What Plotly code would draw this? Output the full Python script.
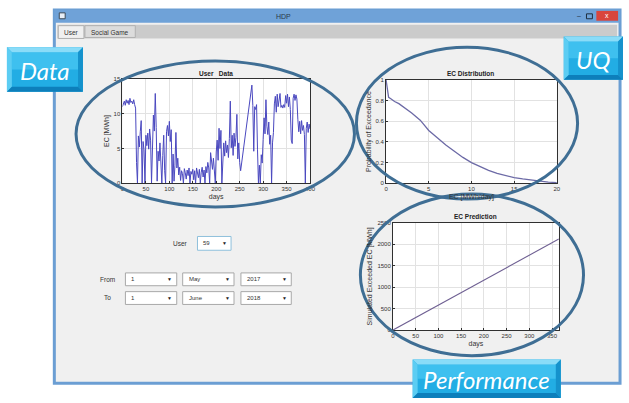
import plotly.graph_objects as go

W, H = 629, 403

# ---- data -------------------------------------------------------------
# daily energy consumption of the selected user
user_days = [
    0, 2, 4, 6, 8, 10, 12, 14, 16, 18,
    20, 22, 24, 26, 28, 30, 32, 34, 36, 38,
    40, 42, 44, 46, 48, 50, 52, 54, 56, 58,
    60, 62, 64, 66, 68, 70, 72, 74, 76, 78,
    80, 82, 84, 86, 88, 90, 92, 94, 96, 98,
    100, 102, 104, 106, 108, 110, 112, 114, 116, 118,
    120, 122, 124, 126, 128, 130, 132, 134, 136, 138,
    140, 142, 144, 146, 148, 150, 152, 154, 156, 158,
    160, 162, 164, 166, 168, 170, 172, 174, 176, 178,
    180, 182, 184, 186, 188, 190, 192, 194, 196, 198,
    200, 202, 204, 206, 208, 210, 212, 214, 216, 218,
    220, 222, 224, 226, 228, 230, 232, 234, 236, 238,
    240, 242, 244, 246, 248, 250, 252, 276, 278,
    280, 282, 284, 286, 288, 290, 292, 294, 296, 298,
    300, 302, 304, 306, 308, 310, 312, 314, 316, 318,
    320, 322, 324, 326, 328, 330, 332, 334, 336, 338,
    340, 342, 344, 346, 348, 350, 352, 354, 356, 358,
    360, 362, 364, 366, 368, 370, 372, 374, 376, 378,
    380, 382, 384, 386, 388, 390, 392, 394, 396, 398, 400,
]
user_ec = [
    11.0, 11.4, 11.8, 11.2, 12.0, 11.5, 11.9, 11.3, 12.2, 11.6,
    11.8, 11.4, 12.0, 11.3, 10.8, 3.0, 0.0, 6.8, 5.2, 7.4,
    9.0, 0.0, 6.0, 4.8, 0.0, 6.9, 5.4, 7.2, 4.9, 7.8,
    6.2, 0.0, 6.6, 9.8, 7.5, 12.9, 8.0, 0.3, 4.6, 3.2,
    5.8, 2.1, 0.0, 4.0, 6.9, 1.8, 0.0, 7.4, 8.3, 6.8,
    8.9, 6.0, 7.7, 0.0, 4.2, 0.3, 2.6, 7.3, 2.2, 3.6,
    1.2, 2.3, 0.4, 1.8, 1.4, 0.0, 2.1, 1.5, 0.6, 1.9,
    1.1, 2.2, 0.0, 1.7, 1.3, 2.0, 0.5, 1.8, 0.0, 2.2,
    1.4, 0.8, 2.0, 0.0, 1.6, 2.3, 0.9, 1.9, 0.0, 2.4,
    1.5, 3.0, 2.2, 0.0, 4.4, 3.1, 2.0, 3.6, 1.6, 0.0,
    4.5, 6.2, 3.3, 7.9, 5.0, 7.6, 0.0, 4.6, 5.8, 3.9,
    6.1, 4.4, 5.5, 3.7, 6.4, 11.8, 5.1, 6.9, 4.0, 7.2,
    5.3, 6.6, 9.9, 3.5, 5.8, 3.0, 1.8, 14.1, 11.2,
    4.6, 11.0, 10.6, 11.3, 4.8, 0.0, 2.6, 0.0, 4.1, 2.9,
    6.3, 9.4, 7.1, 12.0, 8.2, 7.0, 8.8, 5.6, 6.9, 0.0,
    5.8, 7.3, 11.4, 12.5, 10.2, 12.8, 11.0, 12.3, 12.9, 10.9,
    11.2, 10.8, 11.3, 10.9, 12.6, 11.5, 12.8, 11.0, 12.4, 10.6,
    6.2, 5.7, 12.2, 12.8, 11.9, 12.7, 12.1, 9.2, 7.4, 8.9,
    7.1, 9.0, 7.6, 8.3, 7.0, 0.0, 7.9, 8.8, 7.3, 8.5, 7.8,
]

# exceedance probability of daily consumption
dist_ec = [0, 0.15, 0.3, 0.6, 1, 1.5, 2, 2.5, 3, 4, 5, 6, 7, 8, 9,
           10, 11, 12, 13, 14, 15, 16, 17, 18, 19, 20]
dist_prob = [1.0, 0.88, 0.83, 0.815, 0.79, 0.77, 0.74, 0.71, 0.68, 0.61,
             0.51, 0.44, 0.37, 0.31, 0.25, 0.20, 0.16, 0.125, 0.095,
             0.072, 0.055, 0.042, 0.030, 0.020, 0.012, 0.006]

# simulated cumulative exceeded consumption
pred_days = [0, 50, 100, 150, 200, 250, 300, 350, 365]
pred_ec = [0, 290, 580, 870, 1160, 1450, 1740, 2030, 2120]

# ---- helpers: pixel position -> paper fraction -------------------------
def fx(x):
    return x / W


def fy(y):
    return 1 - y / H


shapes = []
annotations = []


def rect(x0, y0, x1, y1, fill, line_color=None, line_width=0, layer="below"):
    shapes.append(dict(
        type="rect", xref="paper", yref="paper",
        x0=fx(x0), x1=fx(x1), y0=fy(y1), y1=fy(y0),
        fillcolor=fill, layer=layer,
        line=dict(color=line_color or fill, width=line_width),
    ))


def poly(points, fill, layer="above"):
    d = "M " + " L ".join(f"{fx(x):.5f},{fy(y):.5f}" for x, y in points) + " Z"
    shapes.append(dict(type="path", xref="paper", yref="paper", path=d,
                       fillcolor=fill, line=dict(width=0), layer=layer))


def text(x, y, s, size=7, color="#333333", xanchor="center",
         family="Liberation Sans", angle=0, layer_font=None):
    annotations.append(dict(
        x=fx(x), y=fy(y), xref="paper", yref="paper", text=s,
        showarrow=False, xanchor=xanchor, yanchor="middle", textangle=angle,
        font=dict(size=size, color=color, family=family),
    ))


# ---- application window ------------------------------------------------
rect(53, 7, 626, 386, "#f0f0f0", "#6b9ed3", 3)
rect(53, 7, 626, 20, "#6fa2d8")
text(285, 13.5, "HDP", size=7, color="#2a3a4a")
rect(58, 10, 64, 16, "#e8eef6", "#3a4a5a", 1)
text(584, 13, "–", size=7, color="#1f2f3f")
rect(592, 11, 598, 16, "#6fa2d8", "#1f2f3f", 1)
rect(602, 8, 624, 18, "#d9453d")
text(613, 13, "x", size=7, color="#ffffff")

# tab strip
rect(56, 22, 623, 36, "#cbcbcb")
rect(57, 23, 83, 36, "#f0f0f0", "#b0b0b0", 1)
rect(84, 23, 135, 35, "#dcdcdc", "#b0b0b0", 1)
text(70, 29.5, "User", size=6.5)
text(109, 29.5, "Social Game", size=6.5)

# white plotting areas
ax1 = (122, 77, 312, 183)
ax2 = (389, 78, 562, 183)
ax3 = (396, 223, 564, 332)
for a in (ax1, ax2, ax3):
    rect(a[0], a[1], a[2], a[3], "#ffffff")

# ---- selection controls -------------------------------------------------
def dropdown(x0, y0, x1, y1, value, border="#a8a8a8"):
    rect(x0, y0, x1, y1, "#ffffff", border, 1)
    text(x0 + 4, (y0 + y1) / 2, value, size=6, xanchor="left")
    text(x1 - 7, (y0 + y1) / 2, "▼", size=5, color="#222222")


text(181, 244, "User", size=6.5)
dropdown(198, 237, 232, 251, "59", border="#8fc0dc")
text(107, 281, "From", size=6.5)
text(107, 299, "To", size=6.5)
row_from = ["1", "May", "2017"]
row_to = ["1", "June", "2018"]
cols = [(125, 177), (183, 235), (242, 293)]
for (c0, c1), v in zip(cols, row_from):
    dropdown(c0, 274, c1, 287, v)
for (c0, c1), v in zip(cols, row_to):
    dropdown(c0, 293, c1, 306, v)

# ---- plot titles ---------------------------------------------------------
text(217, 72, "<b>User   Data</b>", size=6.5, color="#222222")
text(475, 72, "<b>EC Distribution</b>", size=6.5, color="#222222")
text(480, 217, "<b>EC Prediction</b>", size=6.5, color="#222222")

# ---- highlight ellipses ----------------------------------------------------
ring = "#3f6e94"
for (cx, cy, rx, ry) in [(216, 133, 141, 74), (471, 122, 112, 77),
                         (476, 276, 113, 82)]:
    shapes.append(dict(type="circle", xref="paper", yref="paper",
                       x0=fx(cx - rx), x1=fx(cx + rx),
                       y0=fy(cy + ry), y1=fy(cy - ry),
                       line=dict(color=ring, width=3), layer="above"))


# ---- bevelled caption badges -----------------------------------------------
def badge(x0, y0, x1, y1, label, size):
    b = 5
    rect(x0, y0, x1, y1, "#22ade4", layer="above")
    rect(x0 + b, y0 + b, x1 - b, (y0 + y1) / 2, "#3ec0ef", layer="above")
    poly([(x0, y0), (x1, y0), (x1 - b, y0 + b), (x0 + b, y0 + b)], "#8adcf8")
    poly([(x0, y0), (x0 + b, y0 + b), (x0 + b, y1 - b), (x0, y1)], "#5ccdf3")
    poly([(x1, y0), (x1, y1), (x1 - b, y1 - b), (x1 - b, y0 + b)], "#1592cc")
    poly([(x0, y1), (x1, y1), (x1 - b, y1 - b), (x0 + b, y1 - b)], "#0d7fbb")
    annotations.append(dict(
        x=fx((x0 + x1) / 2), y=fy((y0 + y1) / 2 + 1), xref="paper",
        yref="paper", text=f"<i>{label}</i>", showarrow=False,
        xanchor="center", yanchor="middle",
        font=dict(size=size, color="#ffffff", family="Lato"),
    ))


badge(5, 45, 82, 90, "Data", 24)
badge(569, 34, 629, 78, "UQ", 24)
badge(416, 362, 566, 401, "Performance", 24)

# ---- traces ------------------------------------------------------------------
fig = go.Figure()
fig.add_trace(go.Scatter(x=user_days, y=user_ec, mode="lines",
                         line=dict(color="#4a48bf", width=1),
                         xaxis="x", yaxis="y", showlegend=False))
fig.add_trace(go.Scatter(x=dist_ec, y=dist_prob, mode="lines",
                         line=dict(color="#6c6aa6", width=1.3),
                         xaxis="x2", yaxis="y2", showlegend=False))
fig.add_trace(go.Scatter(x=pred_days, y=pred_ec, mode="lines",
                         line=dict(color="#6e5f92", width=1.1),
                         xaxis="x3", yaxis="y3", showlegend=False))

axis_style = dict(
    showline=True, mirror=True, linecolor="#303030", linewidth=1,
    ticks="inside", ticklen=2, tickcolor="#303030",
    tickfont=dict(size=6, color="#333333", family="Liberation Sans"),
    showgrid=True, gridcolor="#e2e2e2", gridwidth=1, zeroline=False,
    fixedrange=True,
)
title_font = dict(size=7, color="#333333", family="Liberation Sans")


def dom_x(a):
    return [fx(a[0]), fx(a[2])]


def dom_y(a):
    return [fy(a[3]), fy(a[1])]


fig.update_layout(
    width=W, height=H, margin=dict(l=0, r=0, t=0, b=0),
    paper_bgcolor="#ffffff", plot_bgcolor="#ffffff",
    showlegend=False,
    xaxis=dict(axis_style, domain=dom_x(ax1), anchor="y", range=[0, 400],
               dtick=50, title=dict(text="days", font=title_font, standoff=2)),
    yaxis=dict(axis_style, domain=dom_y(ax1), anchor="x", range=[0, 15],
               dtick=5, title=dict(text="EC [MWh]", font=title_font,
                                   standoff=3)),
    xaxis2=dict(axis_style, domain=dom_x(ax2), anchor="y2", range=[0, 20],
                dtick=5, title=dict(text="EC [MWh/day]", font=title_font,
                                    standoff=2)),
    yaxis2=dict(axis_style, domain=dom_y(ax2), anchor="x2", range=[0, 1],
                dtick=0.2, title=dict(text="Probability of Exceedance",
                                      font=title_font, standoff=3)),
    xaxis3=dict(axis_style, domain=dom_x(ax3), anchor="y3", range=[0, 365],
                dtick=50, title=dict(text="days", font=title_font,
                                     standoff=2)),
    yaxis3=dict(axis_style, domain=dom_y(ax3), anchor="x3", range=[0, 2500],
                dtick=500, title=dict(text="Simulated Exceeded EC [MWh]",
                                      font=title_font, standoff=3)),
    shapes=shapes,
    annotations=annotations,
)

fig.write_html("out.html")
